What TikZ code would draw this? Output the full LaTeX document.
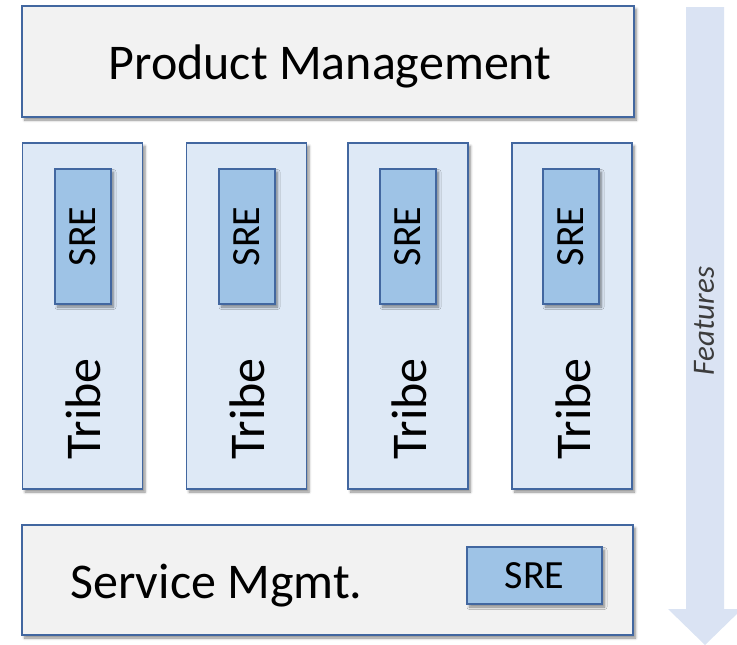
\documentclass[tikz,border=0pt]{standalone}
\usepackage{fontspec}
\setmainfont{Carlito}
\usetikzlibrary{shadows.blur}

\definecolor{edgeblue}{RGB}{66,103,160}
\definecolor{panelgray}{RGB}{242,242,242}
\definecolor{tribefill}{RGB}{222,233,246}
\definecolor{srefill}{RGB}{158,195,230}
\definecolor{arrowfill}{RGB}{218,227,243}
\definecolor{labelgray}{RGB}{60,60,60}

\tikzset{
  boxshadow/.style={blur shadow={shadow xshift=2.5pt, shadow yshift=-3pt,
      shadow blur steps=6, shadow blur radius=2.5pt, shadow opacity=45}},
  panel/.style={draw=edgeblue, line width=1.6pt, fill=panelgray, boxshadow,
      inner sep=0pt},
  tribebox/.style={draw=edgeblue, line width=1.6pt, fill=tribefill, boxshadow,
      minimum width=120pt, minimum height=346pt, inner sep=0pt},
  srebox/.style={draw=edgeblue, line width=1.6pt, fill=srefill, boxshadow,
      inner sep=0pt},
  bigtext/.style={font=\fontsize{50pt}{56pt}\selectfont, text=black, inner sep=0pt},
  sretext/.style={font=\fontsize{40pt}{46pt}\selectfont, text=black},
  featuretext/.style={font=\fontsize{31pt}{36pt}\selectfont\itshape, text=labelgray},
}

\begin{document}
\begin{tikzpicture}[x=1pt, y=-1pt]
  \useasboundingbox (0,0) rectangle (737,645);

  % direction arrow on the right
  \fill[arrowfill] (686,7) -- (724,7) -- (724,609) -- (742,609)
      -- (705,645) -- (668,609) -- (686,609) -- cycle;
  \node[featuretext, rotate=90] (features) at (704,321) {Features};

  % top layer
  \node[panel, minimum width=612pt, minimum height=111pt] (pm) at (328,61.5) {};
  \node[bigtext, anchor=base] (pmlabel) at (330,79) {Product Management};

  % tribes, each with an embedded SRE
  \foreach \i/\cx/\sx in {1/82.5/83, 2/246.5/247, 3/408/408, 4/572/571} {
    \node[tribebox] (tribe\i) at (\cx,316) {};
    \node[srebox, minimum width=56pt, minimum height=135pt] (sre\i) at (\sx,236.5) {};
    \node[sretext, rotate=90] (srelabel\i) at (sre\i.center) {SRE};
    \node[bigtext, rotate=90] (tribelabel\i) at (\cx+1,409) {Tribe};
  }

  % bottom layer
  \node[panel, minimum width=611pt, minimum height=110pt] (svc) at (327.5,580) {};
  \node[bigtext, anchor=base west] (svclabel) at (70,598) {Service Mgmt.};
  \node[srebox, minimum width=135pt, minimum height=57pt] (sresvc) at (534.5,575.5) {};
  \node[sretext] (sresvclabel) at (sresvc.center) {SRE};
\end{tikzpicture}
\end{document}
